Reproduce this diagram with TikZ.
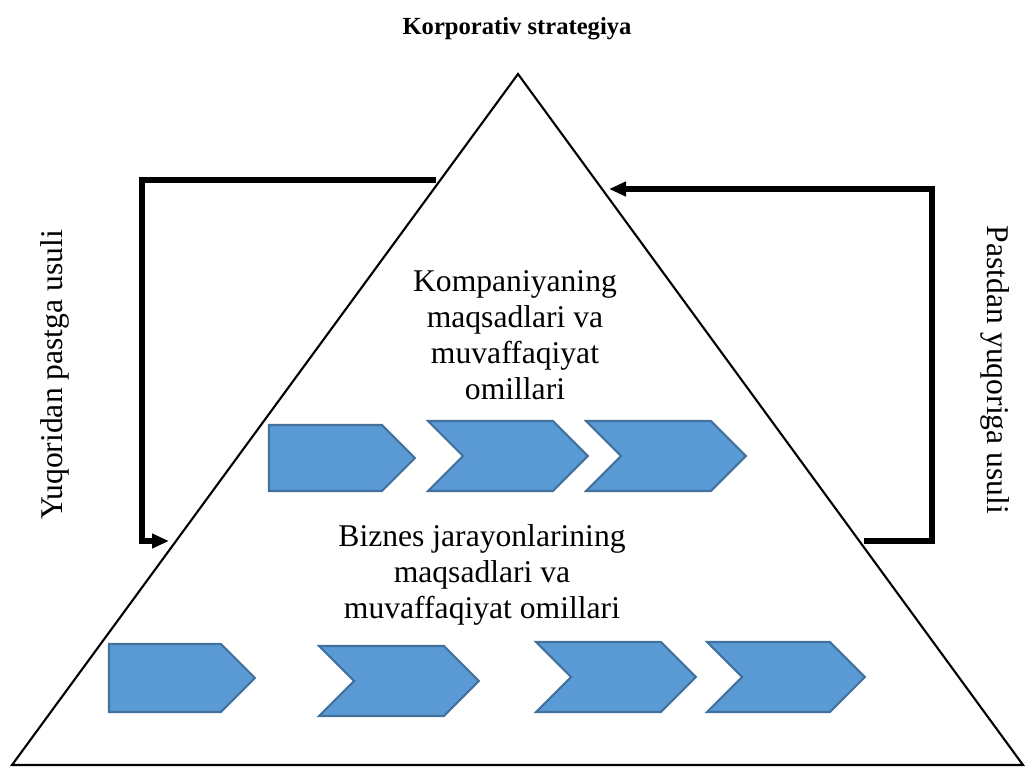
\documentclass[tikz,border=0pt]{standalone}
\usepackage{fontspec}
\setmainfont{Liberation Serif}
\usetikzlibrary{shapes.symbols, arrows.meta, calc}
\definecolor{chevfill}{HTML}{5B9BD5}
\definecolor{chevline}{HTML}{41719C}

\begin{document}
\begin{tikzpicture}[x=0.02cm, y=-0.02cm,
    plate/.style={signal, signal to=east, draw=chevline, fill=chevfill,
                  line width=1.2pt, inner sep=0pt,
                  minimum width=2.92cm, minimum height=1.32cm},
    chev/.style={plate, signal from=west, minimum width=3.2cm, minimum height=1.4cm},
    arrow/.style={-{Triangle[length=3.4mm, width=2.8mm]}, line width=3pt},
    lbl/.style={font=\fontsize{18}{20.5}\selectfont, align=center},
]
\useasboundingbox (0,0) rectangle (1029,767);

\coordinate (apex) at (518,74);
\coordinate (bl)   at (12,765);
\coordinate (br)   at (1023,765);
\draw[line width=1.2pt] (apex) -- (br) -- (bl) -- cycle;

\node[font=\bfseries\fontsize{14}{16}\selectfont, anchor=base] (title) at (517,35) {Korporativ strategiya};

\node[lbl] (topt) at (515,335) {Kompaniyaning\\maqsadlari va\\muvaffaqiyat\\omillari};
\node[lbl] (bott) at (482,575) {Biznes jarayonlarining\\maqsadlari va\\muvaffaqiyat omillari};

\node[plate] (t1) at (325.5,458) {};
\node[chev]  (t2) at (508,456) {};
\node[chev]  (t3) at (666,456) {};

\node[plate, minimum height=1.36cm] (b1) at (165,678) {};
\node[chev] (b2) at (399,681) {};
\node[chev] (b3) at (616,677) {};
\node[chev, minimum width=3.16cm] (b4) at (786,677) {};

\node[lbl, rotate=90]  (down) at (55,375)  {Yuqoridan pastga usuli};
\node[lbl, rotate=-90] (up)   at (995,370) {Pastdan yuqoriga usuli};

\coordinate (ls) at (436,180);
\coordinate (lc) at (142,360);
\coordinate (le) at (169,541);
\draw[arrow] (ls) -| (lc) |- (le);

\coordinate (rs) at (864,541);
\coordinate (rc) at (932,360);
\coordinate (re) at (609,189);
\draw[arrow] (rs) -| (rc) |- (re);
\end{tikzpicture}
\end{document}
